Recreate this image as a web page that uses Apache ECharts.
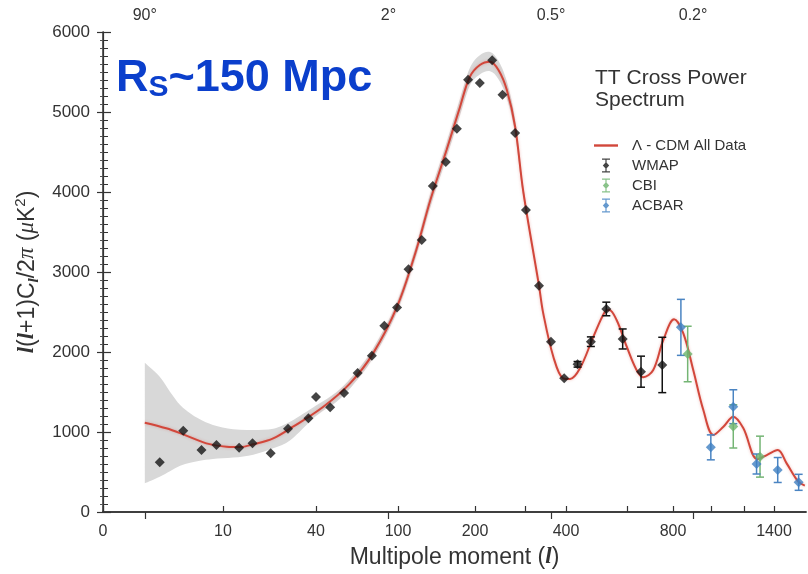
<!DOCTYPE html>
<html>
<head>
<meta charset="utf-8">
<script src="https://cdn.jsdelivr.net/npm/echarts@6/dist/echarts.min.js"></script>
<style>
html, body { margin: 0; padding: 0; background: #fff; }
#main { width: 808px; height: 574px; }
</style>
</head>
<body>
<div id="main"></div>
<script>
// Λ-CDM best fit curve (multipole l, µK²)
var CURVE_L = [2, 3.5, 5, 7.6, 10.6, 13.2, 16.2, 21.8, 29, 43.5, 58.8, 76, 99, 118, 134, 155, 175, 191, 208, 226, 242, 259, 277, 296, 331, 341, 366, 392, 411, 439, 480, 518, 533, 560, 599, 637, 664, 707, 753, 805, 850, 901, 956, 1013, 1071, 1131, 1195, 1285, 1349, 1427, 1494, 1586, 1640];
var CURVE_V = [1116, 1046, 970, 858, 816, 812, 846, 921, 1066, 1316, 1608, 1983, 2566, 3275, 3900, 4525, 5066, 5441, 5588, 5629, 5525, 5275, 4816, 4000, 2829, 2483, 1941, 1671, 1662, 1796, 2191, 2504, 2525, 2400, 2066, 1775, 1683, 1775, 2150, 2408, 2233, 1775, 1275, 963, 1066, 1191, 1050, 660, 712, 775, 608, 379, 330];

// cosmic variance band
var BAND_L  = [2, 3, 3.8, 4.7, 5.7, 6.8, 8.5, 11.8, 16.2, 21.8, 28, 40, 50, 60, 76, 99, 118, 134, 155, 175, 191, 208, 226, 242, 259, 277, 296, 330];
var BAND_LO = [358, 441, 510, 577, 616, 641, 663, 680, 717, 796, 900, 1200, 1370, 1570, 1925, 2500, 3200, 3810, 4430, 4960, 5330, 5470, 5510, 5410, 5170, 4720, 3940, 2850];
var BAND_HI = [1866, 1691, 1504, 1337, 1233, 1158, 1087, 1033, 1025, 1040, 1130, 1330, 1490, 1690, 2045, 2630, 3350, 3990, 4620, 5170, 5550, 5710, 5750, 5640, 5380, 4910, 4060, 2850];

// WMAP
var WMAP_L = [3, 5, 7, 9, 13, 16, 21, 27, 36, 40, 47, 55, 64, 75, 86, 99, 110, 124, 137, 154, 170, 188, 208, 230, 250, 277, 302, 331, 360, 395, 432, 472, 523, 583, 655, 748];
var WMAP_V = [621, 1016, 775, 837, 804, 858, 733, 1041, 1171, 1437, 1308, 1487, 1737, 1954, 2327, 2556, 3033, 3400, 4075, 4375, 4792, 5404, 5364, 5646, 5216, 4737, 3775, 2829, 2129, 1671, 1846, 2129, 2538, 2163, 1754, 1838];
var WMAP_E = [0, 0, 0, 0, 0, 0, 0, 0, 0, 0, 0, 0, 0, 0, 0, 0, 0, 0, 0, 0, 0, 0, 0, 0, 0, 0, 0, 0, 0, 0, 35, 60, 85, 125, 194, 346];

// CBI
var CBI_L = [872, 1131, 1303];
var CBI_V = [1975, 1070, 692];
var CBI_E = [347, 270, 256];

// ACBAR
var ACBAR_L = [838, 999, 1131, 1280, 1427, 1589];
var ACBAR_V = [2308, 808, 1316, 600, 525, 371];
var ACBAR_E = [350, 156, 212, 125, 156, 100];

// axis ticks
var X_TICK_L  = [0, 10, 40, 100, 200, 300, 400, 600, 800, 1000, 1200, 1400];
var X_LABEL_L = [0, 10, 40, 100, 200, 400, 800, 1400];
var TOP_L      = [2, 90, 360, 900];
var TOP_LABELS = ['90°', '2°', '0.5°', '0.2°'];

// the l axis of the original is non-linear: knots taken from its tick marks
var SCALE_L = [0, 10, 40, 100, 200, 300, 400, 600, 800, 1000, 1200, 1400];
var SCALE_U = [0, 120, 213, 295, 372, 422, 463, 524, 570, 608, 641, 671];
var SCALE_T = SCALE_L.map(function (v) { return Math.log10(v + 3); });
function lToU(l) {
    var t = Math.log10(l + 3);
    var i = 1;
    while (i < SCALE_T.length - 1 && t > SCALE_T[i]) i++;
    var f = (t - SCALE_T[i - 1]) / (SCALE_T[i] - SCALE_T[i - 1]);
    return SCALE_U[i - 1] + f * (SCALE_U[i] - SCALE_U[i - 1]);
}
function pairs(ls, vs) {
    return ls.map(function (l, i) { return [lToU(l), vs[i]]; });
}
function triples(ls, vs, es) {
    return ls.map(function (l, i) { return [lToU(l), vs[i], es[i]]; });
}
function nearestLabel(us, labels, v) {
    var best = 0;
    for (var i = 1; i < us.length; i++) {
        if (Math.abs(us[i] - v) < Math.abs(us[best] - v)) best = i;
    }
    return labels[best];
}

var xTickU = X_TICK_L.map(lToU);
var xLabelU = X_LABEL_L.map(lToU);
var topU = TOP_L.map(lToU);

var FONT = 'Liberation Sans, Arial, sans-serif';
var SERIF = 'Liberation Serif, serif';
var AXIS_COLOR = '#333';
var LINE_ICON = 'path://M0,0H24V2.4H0Z';
var ERR_ICON = 'path://M0,0H8V1.2H0Z M3.4,0H4.6V14H3.4Z M0,12.8H8V14H0Z M4,3.5L7.2,7L4,10.5L0.8,7Z';

function errRender(params, api) {
    var x = api.value(0), y = api.value(1), e = api.value(2);
    if (!e) return null;
    var top = api.coord([x, y + e]);
    var bot = api.coord([x, y - e]);
    var hw = 4;
    var style = { stroke: api.visual('color'), lineWidth: 1.5 };
    return {
        type: 'group',
        children: [
            { type: 'line', shape: { x1: top[0], y1: top[1], x2: bot[0], y2: bot[1] }, style: style },
            { type: 'line', shape: { x1: top[0] - hw, y1: top[1], x2: top[0] + hw, y2: top[1] }, style: style },
            { type: 'line', shape: { x1: bot[0] - hw, y1: bot[1], x2: bot[0] + hw, y2: bot[1] }, style: style }
        ]
    };
}

// catmull-rom through the points, as bezier segments
function smoothSegs(p) {
    var s = '';
    for (var i = 0; i < p.length - 1; i++) {
        var p0 = p[Math.max(i - 1, 0)], p1 = p[i], p2 = p[i + 1], p3 = p[Math.min(i + 2, p.length - 1)];
        var k = 1 / 6;
        var c1 = [p1[0] + (p2[0] - p0[0]) * k, p1[1] + (p2[1] - p0[1]) * k];
        var c2 = [p2[0] - (p3[0] - p1[0]) * k, p2[1] - (p3[1] - p1[1]) * k];
        s += 'C' + c1.join(',') + ' ' + c2.join(',') + ' ' + p2.join(',');
    }
    return s;
}

// whole band drawn once, as one closed shape between the upper and lower edge
function bandRender(params, api) {
    if (params.dataIndex !== 0) return null;
    var up = [], lo = [];
    for (var i = 0; i < BAND_L.length; i++) {
        up.push(api.coord([lToU(BAND_L[i]), BAND_HI[i]]));
        lo.push(api.coord([lToU(BAND_L[i]), BAND_LO[i]]));
    }
    var d = 'M' + up[0].join(',') + smoothSegs(up) +
        'L' + lo[lo.length - 1].join(',') + smoothSegs(lo.slice().reverse()) + 'Z';
    return { type: 'path', shape: { pathData: d }, style: { fill: '#d8d8d8' } };
}

var chart = echarts.init(document.getElementById('main'));

var option = {
    animation: false,
    backgroundColor: '#fff',
    title: [{
        text: '{r|R}{s|S}{r|~150 Mpc}',
        left: 116,
        top: 56,
        padding: 0,
        textStyle: {
            rich: {
                r: { fontSize: 45, fontWeight: 'bold', color: '#0b3fcc', fontFamily: FONT, lineHeight: 52, verticalAlign: 'top' },
                s: { fontSize: 30, fontWeight: 'bold', color: '#0b3fcc', fontFamily: FONT, lineHeight: 52, verticalAlign: 'top', padding: [17, 0, 0, 0] }
            }
        }
    }, {
        text: 'TT Cross Power\nSpectrum',
        left: 595,
        top: 67,
        padding: 0,
        textStyle: { fontSize: 21, fontWeight: 'normal', color: '#333', fontFamily: FONT, lineHeight: 22 }
    }],
    legend: {
        orient: 'vertical',
        left: 594,
        top: 138,
        padding: 0,
        itemWidth: 24,
        itemHeight: 14,
        itemGap: 5,
        selectedMode: false,
        textStyle: { fontSize: 15, color: '#333', fontFamily: FONT, padding: [0, 0, 0, 9] },
        data: [
            { name: 'Λ - CDM All Data', icon: LINE_ICON },
            { name: 'WMAP', icon: ERR_ICON },
            { name: 'CBI', icon: ERR_ICON },
            { name: 'ACBAR', icon: ERR_ICON }
        ]
    },
    grid: { left: 103, right: 2, top: 32, bottom: 62, containLabel: false },
    xAxis: [{
        type: 'value',
        position: 'bottom',
        min: 0,
        max: 703,
        z: 5,
        splitLine: { show: false },
        axisLine: { show: true, lineStyle: { color: AXIS_COLOR, width: 1.5 } },
        axisTick: { show: true, inside: true, length: 6, customValues: xTickU, lineStyle: { color: AXIS_COLOR, width: 1.2 } },
        axisLabel: {
            customValues: xLabelU,
            margin: 12,
            fontSize: 16,
            color: '#333',
            fontFamily: FONT,
            formatter: function (v) { return nearestLabel(xLabelU, X_LABEL_L, v); }
        },
        name: '{a|Multipole moment (}{i|l}{a|)}',
        nameLocation: 'middle',
        nameGap: 34,
        nameTextStyle: {
            rich: {
                a: { fontSize: 23, color: '#333', fontFamily: FONT },
                i: { fontSize: 23, color: '#333', fontFamily: SERIF, fontStyle: 'italic', fontWeight: 'bold' }
            }
        }
    }, {
        type: 'value',
        position: 'top',
        min: 0,
        max: 703,
        z: 5,
        splitLine: { show: false },
        axisLine: { show: true, lineStyle: { color: AXIS_COLOR, width: 1.5 } },
        axisTick: { show: true, inside: true, length: 7, customValues: topU, lineStyle: { color: AXIS_COLOR, width: 1.2 } },
        axisLabel: {
            customValues: topU,
            margin: 8,
            fontSize: 16,
            color: '#333',
            fontFamily: FONT,
            formatter: function (v) { return nearestLabel(topU, TOP_LABELS, v); }
        }
    }],
    yAxis: [{
        type: 'value',
        position: 'left',
        min: 0,
        max: 6000,
        interval: 1000,
        z: 5,
        splitLine: { show: false },
        axisLine: { show: true, lineStyle: { color: AXIS_COLOR, width: 1.5 } },
        axisTick: { show: true, inside: true, length: 8, lineStyle: { color: AXIS_COLOR, width: 1.2 } },
        minorTick: { show: true, splitNumber: 10, length: 5, lineStyle: { color: AXIS_COLOR, width: 1 } },
        axisLabel: { margin: 13, fontSize: 17, color: '#333', fontFamily: FONT, formatter: function (v) { return String(v); } },
        name: '{i|l}{a|(}{i|l}{a|+1)C}{sub|l}{a|/2}{p|π}{a| (}{p|μ}{a|K}{sup|2}{a|)}',
        nameLocation: 'middle',
        nameRotate: 90,
        nameGap: 60,
        nameTextStyle: {
            rich: {
                a: { fontSize: 23, color: '#333', fontFamily: FONT, lineHeight: 28 },
                i: { fontSize: 23, color: '#333', fontFamily: SERIF, fontStyle: 'italic', fontWeight: 'bold', lineHeight: 28 },
                p: { fontSize: 23, color: '#333', fontFamily: SERIF, fontStyle: 'italic', lineHeight: 28 },
                sub: { fontSize: 15, color: '#333', fontFamily: SERIF, fontStyle: 'italic', fontWeight: 'bold', lineHeight: 28, verticalAlign: 'bottom' },
                sup: { fontSize: 15, color: '#333', fontFamily: FONT, lineHeight: 28, verticalAlign: 'top' }
            }
        }
    }, {
        type: 'value',
        position: 'right',
        min: 0,
        max: 6000,
        interval: 1000,
        z: 5,
        splitLine: { show: false },
        axisLine: { show: true, lineStyle: { color: AXIS_COLOR, width: 1.2 } },
        axisTick: { show: true, inside: true, length: 6, lineStyle: { color: AXIS_COLOR, width: 1.2 } },
        minorTick: { show: true, splitNumber: 10, length: 3, lineStyle: { color: '#555', width: 1 } },
        axisLabel: { show: false }
    }],
    series: [{
        name: 'band',
        type: 'custom',
        renderItem: bandRender,
        data: triples(BAND_L, BAND_LO, BAND_HI),
        encode: { x: 0, y: 1 },
        z: 1,
        silent: true
    }, {
        name: 'Λ - CDM All Data',
        type: 'line',
        data: pairs(CURVE_L, CURVE_V),
        smooth: 0.35,
        symbol: 'none',
        lineStyle: { color: '#d2473b', width: 2, shadowColor: 'rgba(210,70,60,0.35)', shadowBlur: 3 },
        itemStyle: { color: '#d2473b' },
        z: 2
    }, {
        name: 'WMAP err',
        type: 'custom',
        renderItem: errRender,
        data: triples(WMAP_L, WMAP_V, WMAP_E),
        encode: { x: 0, y: 1 },
        itemStyle: { color: '#111' },
        z: 3
    }, {
        name: 'CBI err',
        type: 'custom',
        renderItem: errRender,
        data: triples(CBI_L, CBI_V, CBI_E),
        encode: { x: 0, y: 1 },
        itemStyle: { color: '#74b574' },
        z: 3
    }, {
        name: 'ACBAR err',
        type: 'custom',
        renderItem: errRender,
        data: triples(ACBAR_L, ACBAR_V, ACBAR_E),
        encode: { x: 0, y: 1 },
        itemStyle: { color: '#4a84c2' },
        z: 3
    }, {
        name: 'WMAP',
        type: 'scatter',
        data: pairs(WMAP_L, WMAP_V),
        symbol: 'diamond',
        symbolSize: 10,
        itemStyle: { color: '#151515' },
        z: 4
    }, {
        name: 'CBI',
        type: 'scatter',
        data: pairs(CBI_L, CBI_V),
        symbol: 'diamond',
        symbolSize: 10,
        itemStyle: { color: '#6db46d' },
        z: 4
    }, {
        name: 'ACBAR',
        type: 'scatter',
        data: pairs(ACBAR_L, ACBAR_V),
        symbol: 'diamond',
        symbolSize: 10,
        itemStyle: { color: '#3f7fc2' },
        z: 4
    }]
};

chart.setOption(option);
</script>
</body>
</html>
